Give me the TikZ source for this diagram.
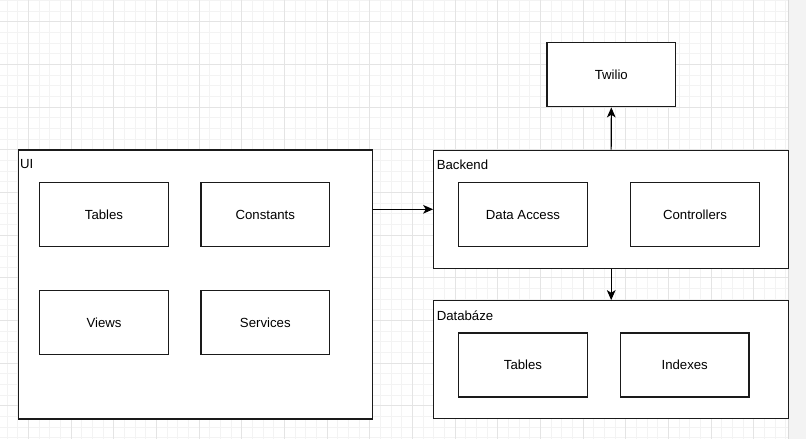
\documentclass[tikz,border=0pt]{standalone}
\usepackage{fontspec}
\setmainfont{Liberation Sans}
\usetikzlibrary{arrows.meta}
\definecolor{minorgrid}{HTML}{F3F3F3}
\definecolor{majorgrid}{HTML}{E4E4E4}
\definecolor{sidegray}{HTML}{F3F3F3}
\definecolor{sideline}{HTML}{D9D9D9}
\definecolor{boxline}{HTML}{1A1A1A}
\begin{document}
\begin{tikzpicture}[x=0.75pt,y=-0.75pt,
  box/.style={draw=boxline, line width=0.85pt, fill=white, rectangle, inner sep=0pt,
    font=\fontsize{9.9pt}{11pt}\selectfont, text=black},
  inner/.style={box, minimum width=96.5pt, minimum height=48pt},
  lbl/.style={anchor=west, inner sep=0pt, font=\fontsize{9.9pt}{11pt}\selectfont, text=black},
  arr/.style={draw=black, line width=0.8pt, -{Stealth[length=7.5pt,width=6.5pt,inset=2pt]}}]
\useasboundingbox (0,0) rectangle (806,439);
\fill[white] (0,0) rectangle (806,439);
% grid
\foreach \i in {0,...,73} {
  \pgfmathsetmacro{\gx}{7+10.6667*\i}
  \draw[minorgrid, line width=0.5pt] (\gx,0) -- (\gx,439);
}
\foreach \i in {0,...,41} {
  \pgfmathsetmacro{\gy}{0.33+10.6667*\i}
  \draw[minorgrid, line width=0.5pt] (0,\gy) -- (788,\gy);
}
\foreach \i in {0,...,18} {
  \pgfmathsetmacro{\gx}{28.33+42.6667*\i}
  \draw[majorgrid, line width=0.6pt] (\gx,0) -- (\gx,439);
}
\foreach \i in {0,...,10} {
  \pgfmathsetmacro{\gy}{21.67+42.6667*\i}
  \draw[majorgrid, line width=0.6pt] (0,\gy) -- (788,\gy);
}
\fill[sidegray] (788.5,0) rectangle (806,439);
\draw[sideline, line width=0.8pt] (788.5,0) -- (788.5,439);
% containers
\node[box, minimum width=265.5pt, minimum height=201.75pt] (ui) at (195.3,284.5) {};
\node[lbl] (uilbl) at (19.8,164.5) {UI};
\node[box, minimum width=266.25pt, minimum height=88.5pt] (backend) at (611.2,209.3) {};
\node[lbl] (backendlbl) at (436.5,164.5) {Backend};
\node[box, minimum width=266.25pt, minimum height=88.2pt] (db) at (611.2,359.5) {};
\node[lbl] (dblbl) at (436.5,315.5) {Databáze};
% inner boxes
\node[inner] (tables) at (104,214.7) {Tables};
\node[inner] (constants) at (265.3,214.7) {Constants};
\node[inner] (views) at (104,322.3) {Views};
\node[inner] (services) at (265.3,322.3) {Services};
\node[inner] (dataaccess) at (523,214.7) {Data Access};
\node[inner] (controllers) at (695,214.7) {Controllers};
\node[inner] (twilio) at (611.3,74.85) {Twilio};
\node[inner] (dbtables) at (523,365) {Tables};
\node[inner] (indexes) at (684.7,365) {Indexes};
% connectors
\draw[arr] (ui.east |- backend.west) -- (backend.west);
\draw[arr] (backend.north) -- (twilio.south);
\draw[arr] (backend.south) -- (db.north);
\end{tikzpicture}
\end{document}
